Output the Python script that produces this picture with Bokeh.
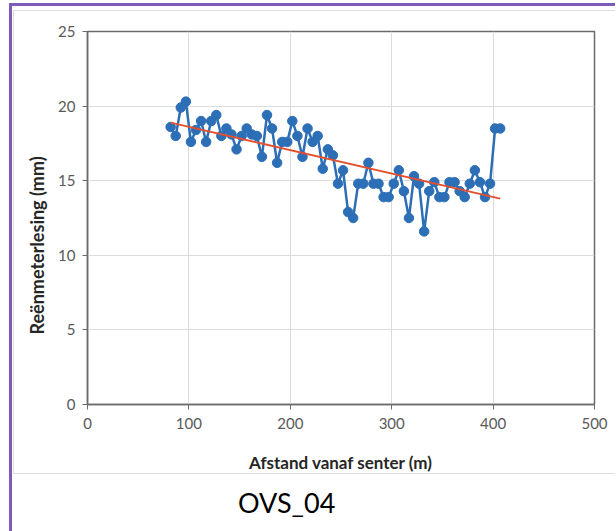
from bokeh.plotting import figure
from bokeh.layouts import column
from bokeh.models import Range1d, FixedTicker, Title, Div
from bokeh.embed import file_html
from bokeh.resources import INLINE

# --- data ---
distance = [82, 87, 92, 97, 102, 107, 112, 117, 122, 127,
            132, 137, 142, 147, 152, 157, 162, 167, 172, 177,
            182, 187, 192, 197, 202, 207, 212, 217, 222, 227,
            232, 237, 242, 247, 252, 257, 262, 267, 272, 277,
            282, 287, 292, 297, 302, 307, 312, 317, 322, 327,
            332, 337, 342, 347, 352, 357, 362, 367, 372, 377,
            382, 387, 392, 397, 402, 407]
reading = [18.6, 18.0, 19.9, 20.3, 17.6, 18.4, 19.0, 17.6, 19.0, 19.4,
           18.0, 18.5, 18.1, 17.1, 18.0, 18.5, 18.1, 18.0, 16.6, 19.4,
           18.5, 16.2, 17.6, 17.6, 19.0, 18.0, 16.6, 18.5, 17.6, 18.0,
           15.8, 17.1, 16.7, 14.8, 15.7, 12.9, 12.5, 14.8, 14.8, 16.2,
           14.8, 14.8, 13.9, 13.9, 14.8, 15.7, 14.3, 12.5, 15.3, 14.8,
           11.6, 14.3, 14.9, 13.9, 13.9, 14.9, 14.9, 14.3, 13.9, 14.8,
           15.7, 14.9, 13.9, 14.8, 18.5, 18.5]
trend_x = [82, 407]
trend_y = [18.9, 13.8]
x_ticks = [0, 100, 200, 300, 400, 500]
y_ticks = [0, 5, 10, 15, 20, 25]
x_title = "Afstand vanaf senter (m)"
y_title = "Reënmeterlesing (mm)"
caption = "OVS_04"

p = figure(width=602, height=464, output_backend="svg", toolbar_location=None,
           x_range=Range1d(0, 500), y_range=Range1d(0, 25),
           min_border_left=73, min_border_right=22,
           min_border_top=20, min_border_bottom=71)
p.margin = (4, 0, 0, 1)
p.styles = {"border-top": "1px solid #dedede", "border-left": "1px solid #dedede",
            "border-bottom": "1px solid #dedede"}
p.background_fill_color = "white"
p.border_fill_color = "white"
p.outline_line_color = "#6b6b6b"
p.outline_line_width = 1.5

for ax in (p.xaxis[0], p.yaxis[0]):
    ax.axis_line_color = "#6b6b6b"
    ax.axis_line_width = 1.5
    ax.major_tick_line_color = "#6b6b6b"
    ax.major_tick_in = 0
    ax.major_tick_out = 5
    ax.minor_tick_line_color = None
    ax.major_label_text_font = "Lato"
    ax.major_label_text_font_size = "15px"
    ax.major_label_text_color = "#595959"

p.xaxis.ticker = FixedTicker(ticks=x_ticks)
p.yaxis.ticker = FixedTicker(ticks=y_ticks)
p.xaxis.major_label_standoff = 8
p.yaxis.major_label_standoff = 7
p.xaxis.axis_label = x_title
p.xaxis.axis_label_text_font = "Lato"
p.xaxis.axis_label_text_font_style = "bold"
p.xaxis.axis_label_text_font_size = "17px"
p.xaxis.axis_label_text_color = "#262626"
p.xaxis.axis_label_standoff = 20

p.xgrid.ticker = FixedTicker(ticks=x_ticks)
p.ygrid.ticker = FixedTicker(ticks=y_ticks)
p.xgrid.grid_line_color = "#dcdcdc"
p.ygrid.grid_line_color = "#dcdcdc"

p.line(distance, reading, line_color="#2c6fb7", line_width=2.5)
p.scatter(distance, reading, size=9.5, fill_color="#2c6fb7", line_color="#2c6fb7")
p.line(trend_x, trend_y, line_color="#e4502e", line_width=1.8)

p.add_layout(Title(text=y_title, align="left", offset=70, standoff=15,
                   text_font="Lato", text_font_style="bold", text_font_size="18px",
                   text_color="#262626"), "left")

cap = Div(text=caption, margin=(13, 0, 0, 226),
          styles={"font-family": "Lato", "font-size": "27px", "color": "black",
                  "line-height": "32px"})

root = column(p, cap)
root.margin = (3, 0, 0, 9)
root.styles = {"border-top": "3px solid #7d5bb8", "border-left": "3px solid #7d5bb8",
               "min-height": "540px"}

open("out.html", "w").write(file_html(root, INLINE))
